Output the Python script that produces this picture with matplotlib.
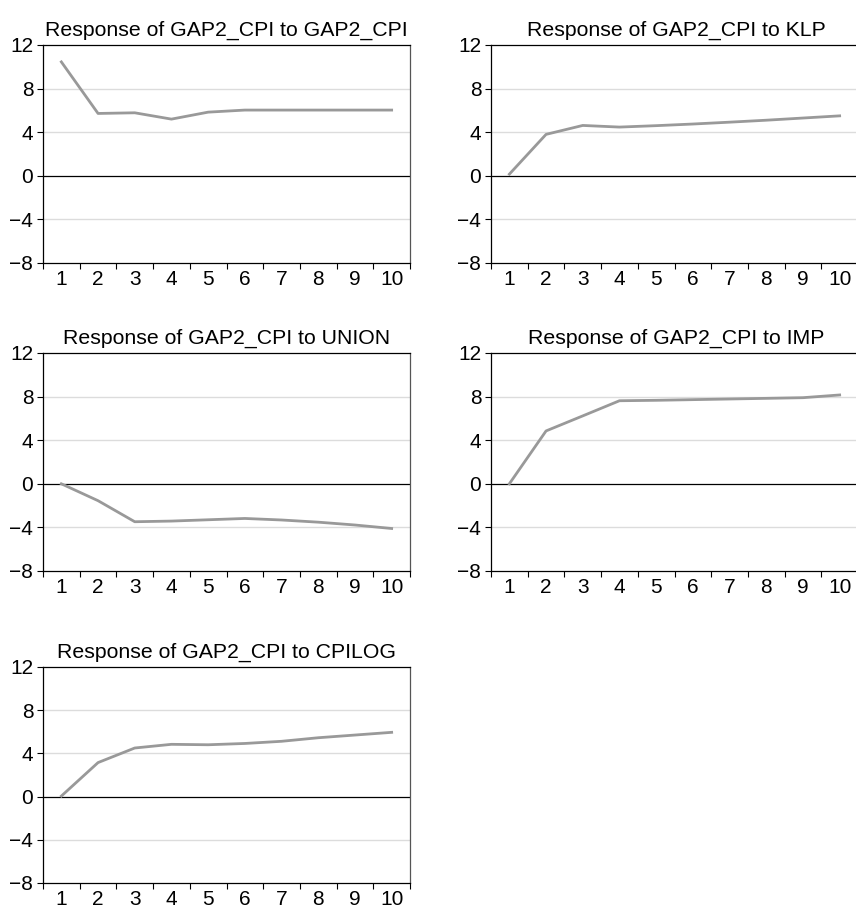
import matplotlib
matplotlib.use("Agg")
import matplotlib.pyplot as plt
import numpy as np

plt.rcParams['font.family'] = ['Liberation Sans', 'DejaVu Sans']

periods = [1, 2, 3, 4, 5, 6, 7, 8, 9, 10]
titles = [
    "Response of GAP2_CPI to GAP2_CPI",
    "Response of GAP2_CPI to KLP",
    "Response of GAP2_CPI to UNION",
    "Response of GAP2_CPI to IMP",
    "Response of GAP2_CPI to CPILOG",
]
resp_gap2_cpi = [10.45, 5.72, 5.78, 5.2, 5.84, 6.03, 6.03, 6.03, 6.03, 6.03]
resp_klp = [0.15, 3.8, 4.62, 4.47, 4.6, 4.75, 4.92, 5.1, 5.3, 5.5]
resp_union = [0.0, -1.55, -3.48, -3.42, -3.3, -3.18, -3.32, -3.52, -3.78, -4.1]
resp_imp = [0.0, 4.85, 6.23, 7.62, 7.66, 7.72, 7.78, 7.84, 7.9, 8.15]
resp_cpilog = [0.05, 3.15, 4.5, 4.84, 4.8, 4.92, 5.12, 5.45, 5.7, 5.95]
series = [resp_gap2_cpi, resp_klp, resp_union, resp_imp, resp_cpilog]
y_ticks = [-8, -4, 0, 4, 8, 12]

W, H = 856, 906
fig = plt.figure(figsize=(W / 100, H / 100), dpi=100)

col_left = [43, 491]
ax_w = 367
rows = [(45, 263), (353, 571), (667, 883)]

positions = [(0, 0), (0, 1), (1, 0), (1, 1), (2, 0)]

for (r, c), title, vals in zip(positions, titles, series):
    top, bot = rows[r]
    left = col_left[c]
    w = ax_w if c == 0 else ax_w + 3
    ax = fig.add_axes([left / W, 1 - bot / H, w / W, (bot - top) / H])
    ax.set_xlim(0.5, 10.5 + (0 if c == 0 else 3 * 10 / ax_w))
    ax.set_ylim(-8, 12)
    for yv in [8, 4, -4]:
        ax.axhline(yv, color='#dcdcdc', lw=1.0, zorder=1)
    ax.axhline(0, color='black', lw=0.9, zorder=2)
    ax.plot(periods, vals, color='#999999', lw=2.0, zorder=3, solid_joinstyle='round')
    ax.set_title(title, fontsize=15.3, pad=7)
    ax.set_yticks(y_ticks)
    ax.set_yticklabels([f"{v}".replace('-', '\u2212') for v in y_ticks])
    ax.set_xticks(np.arange(0.5, 11, 1.0))
    ax.set_xticklabels([])
    ax.set_xticks(periods, minor=True)
    ax.set_xticklabels([str(p) for p in periods], minor=True)
    ax.tick_params(axis='x', which='major', direction='out', length=4, width=0.8)
    ax.tick_params(axis='x', which='minor', length=0, pad=5, labelsize=15)
    ax.tick_params(axis='y', direction='out', length=4, width=0.8, pad=3, labelsize=15)
    for s in ['left', 'bottom', 'top']:
        ax.spines[s].set_linewidth(0.9)
        ax.spines[s].set_color('black')
    ax.spines['right'].set_linewidth(0.9)
    ax.spines['right'].set_color('#555555')

fig.savefig("out.png", dpi=100)
